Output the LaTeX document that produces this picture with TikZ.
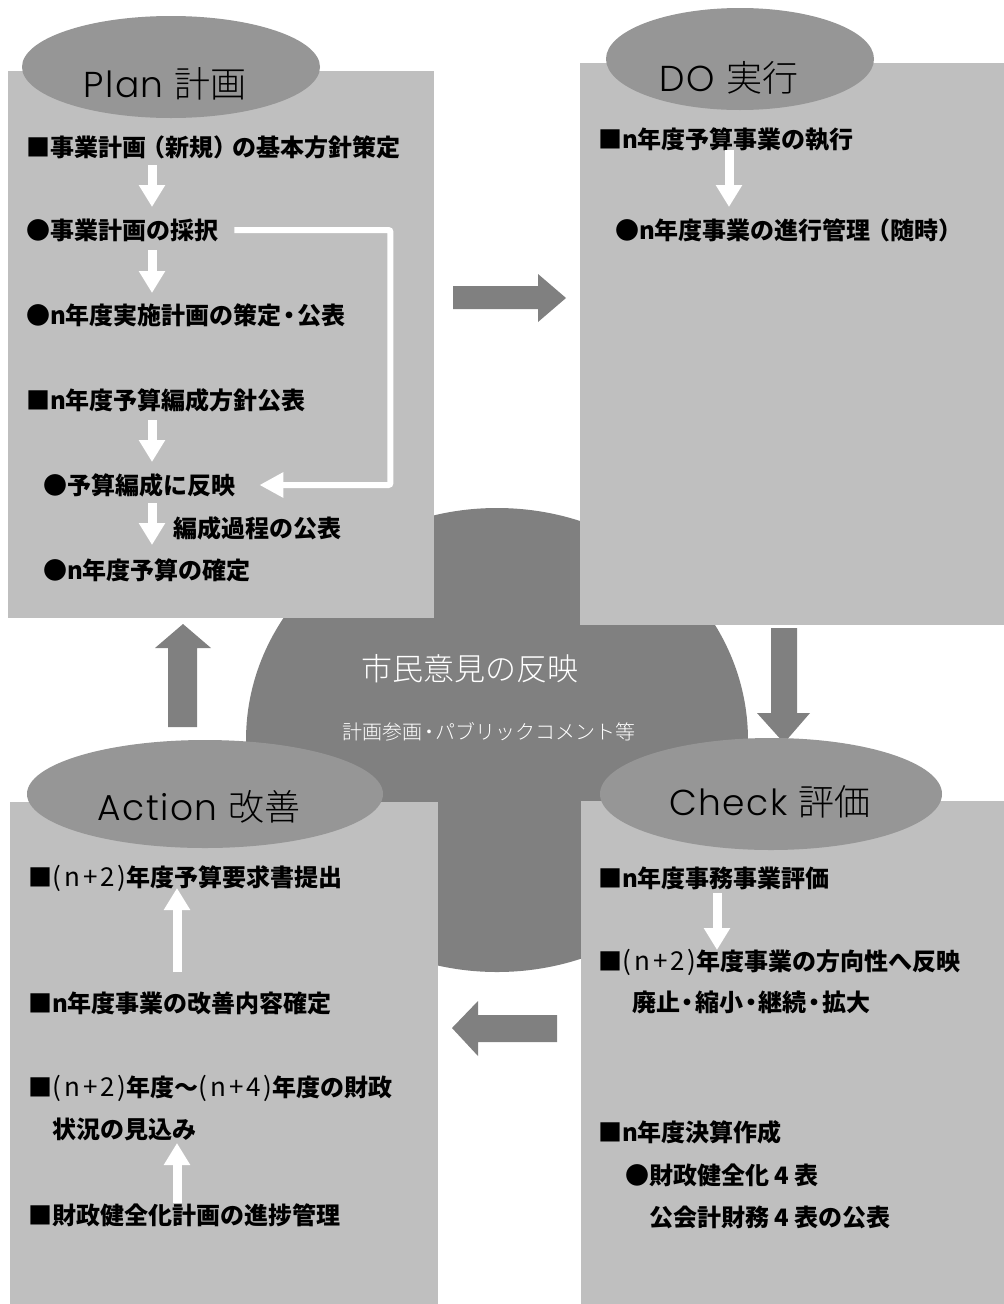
\documentclass[tikz,border=0pt]{standalone}
\usepackage{fontspec}
\newfontfamily\jp{Noto Sans CJK JP}
\IfFontExistsTF{Noto Sans CJK JP Light}
  {\newfontfamily\jplight{Noto Sans CJK JP Light}}
  {\newfontfamily\jplight{Noto Sans CJK JP}}
\IfFontExistsTF{Poppins Light}
  {\newfontfamily\latinfont[LetterSpace=4]{Poppins Light}}
  {\newfontfamily\latinfont[LetterSpace=4]{Poppins}}
\usetikzlibrary{arrows.meta}
\definecolor{boxgray}{gray}{0.75}
\definecolor{ellgray}{gray}{0.59}
\definecolor{circgray}{gray}{0.5}
\newcommand\npl[1]{{\mdseries\fontsize{26}{28}\selectfont(\kern0.12em n\kern0.12em +\kern0.12em #1\kern0.1em)}}
\newcommand\ndot{\kern-0.18em・\kern-0.18em}
\begin{document}
\begin{tikzpicture}[x=1pt,y=-1pt,
  item/.style={anchor=west, inner sep=0pt, font=\jp\bfseries\fontsize{24}{28}\selectfont, text=black},
  ttl/.style={inner sep=0pt, font=\fontsize{36}{42}\selectfont, text=black},
  panel/.style={fill=boxgray, draw=none},
  capshape/.style={fill=ellgray, draw=none},
  bigarrow/.style={fill=circgray, draw=none},
  warrow/.style={draw=white, line width=9pt, -{Triangle[width=25pt,length=22pt]}},
  wline/.style={draw=white, line width=6pt, rounded corners=2pt, -{Triangle[width=24pt,length=24pt]}}
]
\useasboundingbox (0,0) rectangle (1004,1304);
\fill[white] (0,0) rectangle (1004,1304);
% central ellipse
\fill[circgray] (497,740) ellipse [x radius=251, y radius=232];
% panels
\fill[panel] (8,71) rectangle (434,618);
\fill[panel] (580,63) rectangle (1004,625);
\fill[panel] (10,802) rectangle (438,1304);
\fill[panel] (581,801) rectangle (1004,1304);
% big arrows
\fill[bigarrow] (453,286) -- (538,286) -- (538,274) -- (566,298) -- (538,322) -- (538,309) -- (453,309) -- cycle;
\fill[bigarrow] (771,628) -- (797,628) -- (797,713) -- (810,713) -- (784,743) -- (757,713) -- (771,713) -- cycle;
\fill[bigarrow] (557,1015) -- (478,1015) -- (478,1001) -- (452,1028) -- (478,1056) -- (478,1042) -- (557,1042) -- cycle;
\fill[bigarrow] (168,727) -- (168,648) -- (155,648) -- (183,624) -- (211,648) -- (197,648) -- (197,727) -- cycle;
% caps
\fill[capshape] (171,67) ellipse [x radius=149, y radius=51];
\fill[capshape] (740,59) ellipse [x radius=134, y radius=51];
\fill[capshape] (205,794) ellipse [x radius=178, y radius=54];
\fill[capshape] (771,794) ellipse [x radius=171, y radius=56];
% titles
\node[ttl] (tplan) at (165,84) {{\latinfont Plan} {\jplight 計画}};
\node[ttl] (tdo) at (729,78) {{\latinfont DO} {\jplight 実行}};
\node[ttl] (tact) at (199,807) {{\latinfont Action} {\jplight 改善}};
\node[ttl] (tchk) at (770,802) {{\latinfont Check} {\jplight 評価}};
% centre text
\node[inner sep=0pt, text=white, font=\jplight\fontsize{31}{34}\selectfont] (cm) at (470,669) {市民意見の反映};
\node[inner sep=0pt, text=white, font=\jplight\fontsize{20}{24}\selectfont] (cs) at (489,732) {計画参画\ndot パブリックコメント等};
% Plan items
\node[item] (p1) at (26,147) {■事業計画\kern-0.2em（新規）\kern-0.2em の基本方針策定};
\node[item] (p2) at (26,230) {●事業計画の採択};
\node[item] (p3) at (26,315) {●n年度実施計画の策定\ndot 公表};
\node[item] (p4) at (26,400) {■n年度予算編成方針公表};
\node[item] (p5) at (43,485) {●予算編成に反映};
\node[item] (p6) at (173,528) {編成過程の公表};
\node[item] (p7) at (43,570) {●n年度予算の確定};
% DO items
\node[item] (d1) at (598,140) {■n年度予算事業の執行};
\node[item] (d2) at (615,230) {●n年度事業の進行管理\kern-0.2em（随時）};
% Check items
\node[item] (c1) at (598,878) {■n年度事務事業評価};
\node[item] (c2) at (598,962) {■\npl{2}年度事業の方向性へ反映};
\node[item] (c3) at (632,1002) {廃止\ndot 縮小\ndot 継続\ndot 拡大};
\node[item] (c4) at (598,1132) {■n年度決算作成};
\node[item] (c5) at (625,1175) {●財政健全化 4 表};
\node[item] (c6) at (649,1217) {公会計財務 4 表の公表};
% Action items
\node[item] (a1) at (28,878) {■\npl{2}年度予算要求書提出};
\node[item] (a2) at (28,1003) {■n年度事業の改善内容確定};
\node[item] (a3) at (28,1088) {■\npl{2}年度～\npl{4}年度の財政};
\node[item] (a4) at (52,1129) {状況の見込み};
\node[item] (a5) at (28,1215) {■財政健全化計画の進捗管理};
% white arrows
\coordinate (ap1) at (152,165); \coordinate (ap2) at (152,207);
\coordinate (ap3) at (152,250); \coordinate (ap4) at (152,293);
\coordinate (ap5) at (152,420); \coordinate (ap6) at (152,462);
\coordinate (ap7) at (152,503); \coordinate (ap8) at (152,545);
\draw[warrow] (ap1) -- (ap2);
\draw[warrow] (ap3) -- (ap4);
\draw[warrow] (ap5) -- (ap6);
\draw[warrow] (ap7) -- (ap8);
\draw[wline] ([xshift=16pt]p2.east) -- ++(156,0) |- ([xshift=24pt]p5.east);
\coordinate (ad1) at (729,150); \coordinate (ad2) at (729,207);
\draw[warrow] (ad1) -- (ad2);
\coordinate (ac1) at (717,893); \coordinate (ac2) at (717,950);
\draw[warrow] (ac1) -- (ac2);
\coordinate (aa1) at (177,972); \coordinate (aa2) at (177,888);
\draw[warrow] (aa1) -- (aa2);
\coordinate (aa3) at (177,1203); \coordinate (aa4) at (177,1143);
\draw[warrow] (aa3) -- (aa4);
\end{tikzpicture}
\end{document}
